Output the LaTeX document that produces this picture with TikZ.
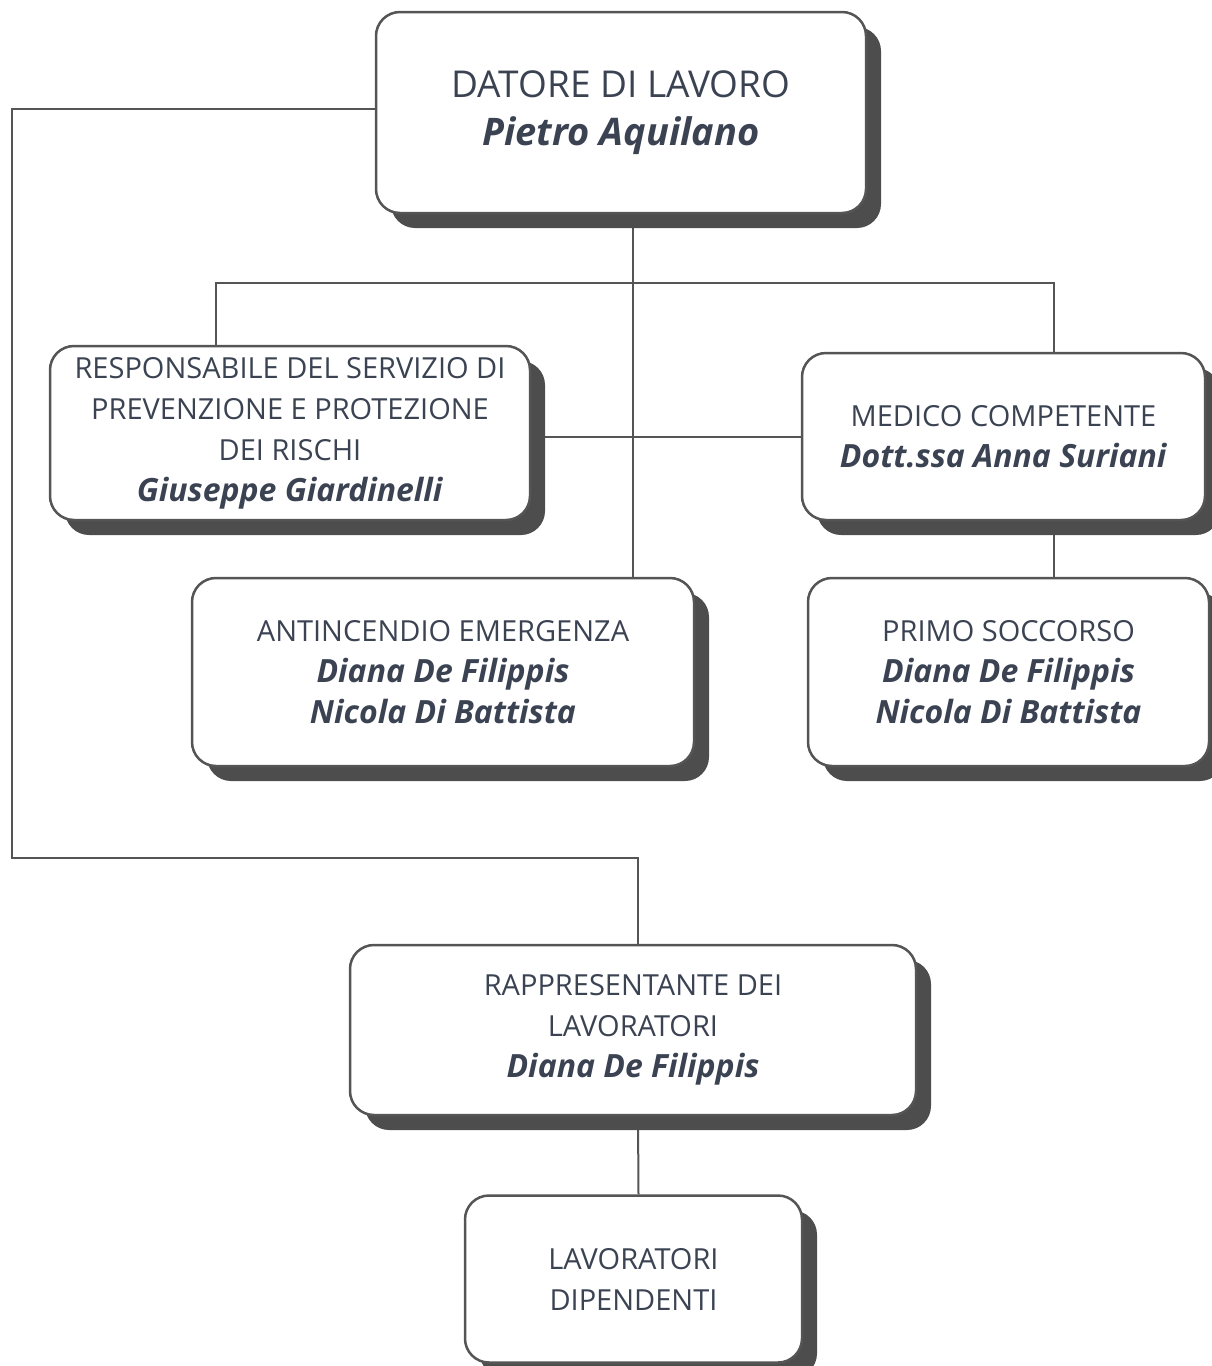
\documentclass[tikz,border=0pt]{standalone}
\usepackage{fontspec}
\setmainfont{Open Sans}
\usepackage{tikz}
\usetikzlibrary{positioning,shadows,backgrounds}
\definecolor{txtcol}{HTML}{3B4353}
\definecolor{edgecol}{HTML}{555555}
\definecolor{shadecol}{HTML}{4D4D4D}
\newcommand{\nome}[2][32]{{\fontsize{#1}{41}\selectfont\textbf{\textit{#2}}}}

\begin{document}
\begin{tikzpicture}[x=1pt,y=-1pt,
	box/.style={draw=edgecol,line width=2.5pt,fill=white,rounded corners=24pt,
		align=center,inner sep=0pt,text=txtcol,
		font=\fontsize{29}{41}\selectfont,
		drop shadow={shadow xshift=15pt,shadow yshift=-15pt,fill=shadecol,opacity=1}},
	link/.style={draw=edgecol,line width=2pt}]

\useasboundingbox (0,0) rectangle (1211,1366);

% datore di lavoro
\node[box,minimum width=490pt,minimum height=201pt,font=\fontsize{37}{48}\selectfont] (datore) at (621,112.5)
	{DATORE DI LAVORO\\\nome[38]{Pietro Aquilano}};

% RSPP e medico
\node[box,minimum width=480pt,minimum height=174pt] (rspp) at (290,433)
	{RESPONSABILE DEL SERVIZIO DI\\PREVENZIONE E PROTEZIONE\\DEI RISCHI\\\nome{Giuseppe Giardinelli}};
\node[box,minimum width=403pt,minimum height=167pt] (medico) at (1003.5,436.5)
	{MEDICO COMPETENTE\\\nome{Dott.ssa Anna Suriani}};

% addetti
\node[box,minimum width=502pt,minimum height=188pt] (antinc) at (443,672)
	{ANTINCENDIO EMERGENZA\\\nome{Diana De Filippis}\\\nome{Nicola Di Battista}};
\node[box,minimum width=401pt,minimum height=188pt] (primo) at (1008.5,672)
	{PRIMO SOCCORSO\\\nome{Diana De Filippis}\\\nome{Nicola Di Battista}};

% RLS e lavoratori
\node[box,minimum width=566pt,minimum height=170pt] (rapp) at (633,1030)
	{RAPPRESENTANTE DEI\\LAVORATORI\\\nome{Diana De Filippis}};
\node[box,minimum width=337pt,minimum height=167pt] (lavor) at (633.5,1279)
	{LAVORATORI\\DIPENDENTI};

\coordinate (sx1) at (12,109);
\coordinate (sx2) at (12,858);
\coordinate (trunk) at (633,283);
\coordinate (busL) at (216,283);
\coordinate (busR) at (1054,283);

% linee
\begin{scope}[on background layer]
\draw[link] (datore.west |- sx1) -- (sx1) -- (sx2) -| ([xshift=5pt]rapp.north);
\draw[link] (datore.south -| trunk) -- (antinc.north -| trunk);
\draw[link] (rspp.north -| busL) -- (busL) -- (busR) -- (medico.north -| busR);
\draw[link] (medico.south -| busR) -- (primo.north -| busR);
\draw[link] (rspp.east |- medico.west) -- (medico.west);
\draw[link] ([xshift=5pt]rapp.south) -- ([xshift=5pt]lavor.north);
\end{scope}

\end{tikzpicture}
\end{document}
